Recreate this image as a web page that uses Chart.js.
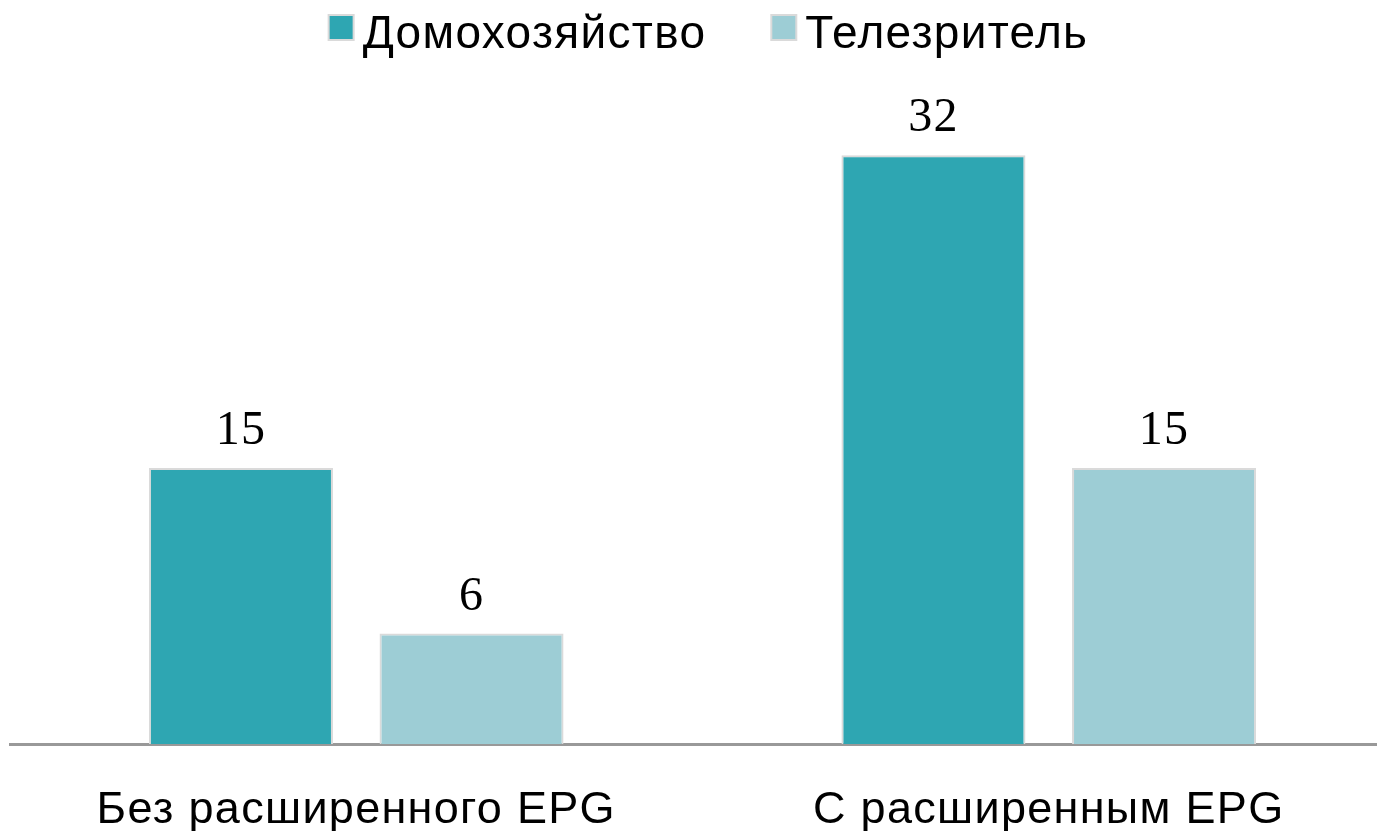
<!DOCTYPE html>
<html>
<head>
<meta charset="utf-8">
<script src="https://cdn.jsdelivr.net/npm/chart.js@4"></script>
<style>
  html, body { margin: 0; padding: 0; background: #fff; overflow: hidden; }
  #wrap { width: 1400px; height: 831px; }
</style>
</head>
<body>
<div id="wrap"><canvas id="c" width="1400" height="831"></canvas></div>
<script>
const categories = ["Без расширенного EPG", "С расширенным EPG"];
const seriesNames = ["Домохозяйство", "Телезритель"];
const householdValues = [15, 32];
const viewerValues = [6, 15];

const SANS = '"Liberation Sans", Arial, sans-serif';

const spacing = {
  id: 'spacing',
  beforeDraw(chart) {
    if ('letterSpacing' in chart.ctx) chart.ctx.letterSpacing = '1.3px';
  }
};

const valueLabels = {
  id: 'valueLabels',
  afterDatasetsDraw(chart) {
    const ctx = chart.ctx;
    ctx.save();
    ctx.font = '48px "Liberation Serif", "DejaVu Serif", serif';
    ctx.fillStyle = '#000';
    ctx.textAlign = 'center';
    ctx.textBaseline = 'alphabetic';
    chart.data.datasets.forEach((ds, di) => {
      const meta = chart.getDatasetMeta(di);
      meta.data.forEach((el, i) => {
        ctx.fillText(String(ds.data[i]), el.x, el.y - 24);
      });
    });
    ctx.restore();
  }
};

const customLegend = {
  id: 'customLegend',
  afterDraw(chart) {
    const ctx = chart.ctx;
    ctx.save();
    ctx.font = '46px ' + SANS;
    const box = 25, gapText = 9, gapItem = 65;
    const items = chart.data.datasets.map(ds => ({
      text: ds.label, fill: ds.backgroundColor, stroke: ds.borderColor,
      w: ctx.measureText(ds.label).width
    }));
    let total = 0;
    items.forEach((it, i) => { total += box + gapText + it.w + (i ? gapItem : 0); });
    const ca = chart.chartArea;
    let x = (ca.left + ca.right) / 2 + 6 - total / 2;
    items.forEach((it, i) => {
      if (i) x += gapItem;
      ctx.fillStyle = it.fill;
      ctx.strokeStyle = it.stroke;
      ctx.lineWidth = 2;
      ctx.fillRect(x, 15, box, box);
      ctx.strokeRect(x, 15, box, box);
      x += box + gapText;
      ctx.fillStyle = '#000';
      ctx.textBaseline = 'alphabetic';
      ctx.textAlign = 'left';
      ctx.fillText(it.text, x, 48);
      x += it.w;
    });
    ctx.restore();
  }
};

new Chart(document.getElementById('c'), {
  type: 'bar',
  data: {
    labels: categories,
    datasets: [
      {
        label: seriesNames[0],
        data: householdValues,
        backgroundColor: '#2EA6B2',
        borderColor: '#DADADA',
        borderWidth: 2,
        categoryPercentage: 0.666,
        barPercentage: 0.798
      },
      {
        label: seriesNames[1],
        data: viewerValues,
        backgroundColor: '#9DCDD5',
        borderColor: '#DADADA',
        borderWidth: 2,
        categoryPercentage: 0.666,
        barPercentage: 0.798
      }
    ]
  },
  options: {
    responsive: false,
    animation: false,
    layout: { padding: { left: 10, right: 5, top: 100, bottom: 0 } },
    plugins: {
      tooltip: { enabled: false },
      legend: { display: false }
    },
    scales: {
      x: {
        grid: { display: false },
        border: { display: true, color: '#999999', width: 3 },
        afterFit(scale) { scale.height = 87; },
        ticks: {
          color: '#000',
          padding: 32,
          font: { family: SANS, size: 45 }
        }
      },
      y: {
        display: false,
        min: 0,
        max: 35
      }
    }
  },
  plugins: [spacing, valueLabels, customLegend]
});
</script>
</body>
</html>
